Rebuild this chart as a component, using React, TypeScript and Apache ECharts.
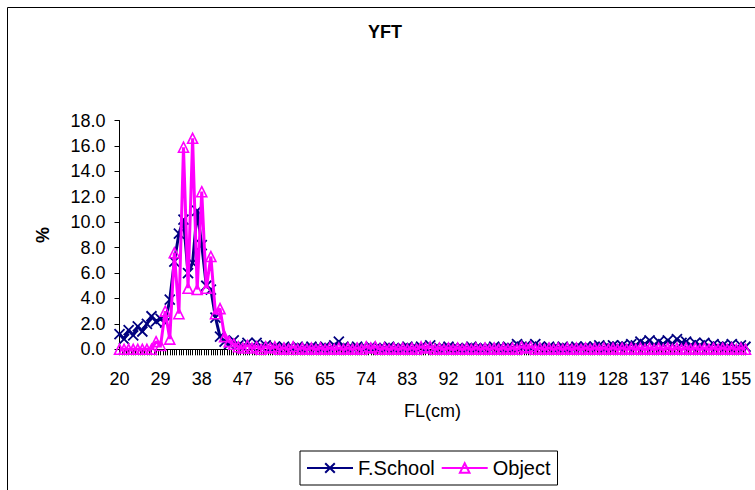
import React, { useEffect, useRef } from "react";
import * as echarts from "echarts";

const FONT = "'Liberation Sans', Arial, sans-serif";

// FL (cm) categories
const categories: number[] = [
  20, 21, 22, 23, 24, 25, 26, 27, 28, 29,
  30, 31, 32, 33, 34, 35, 36, 37, 38, 39,
  40, 41, 42, 43, 44, 45, 46, 47, 48, 49,
  50, 51, 52, 53, 54, 55, 56, 57, 58, 59,
  60, 61, 62, 63, 64, 65, 66, 67, 68, 69,
  70, 71, 72, 73, 74, 75, 76, 77, 78, 79,
  80, 81, 82, 83, 84, 85, 86, 87, 88, 89,
  90, 91, 92, 93, 94, 95, 96, 97, 98, 99,
  100, 101, 102, 103, 104, 105, 106, 107, 108, 109,
  110, 111, 112, 113, 114, 115, 116, 117, 118, 119,
  120, 121, 122, 123, 124, 125, 126, 127, 128, 129,
  130, 131, 132, 133, 134, 135, 136, 137, 138, 139,
  140, 141, 142, 143, 144, 145, 146, 147, 148, 149,
  150, 151, 152, 153, 154, 155, 156, 157,
];

// F.School (%)
const fSchool: number[] = [
  1.2, 0.8, 1.5, 1.1, 1.8, 1.4, 2.0, 2.6, 2.2, 2.4,
  2.1, 3.9, 6.9, 9.1, 10.2, 6.0, 6.8, 10.9, 8.2, 5.0,
  4.7, 2.5, 1.0, 0.6, 0.4, 0.7, 0.3, 0.2, 0.5, 0.2,
  0.5, 0.2, 0.3, 0.1, 0.2, 0.1, 0.2, 0.1, 0.1, 0.2,
  0.1, 0.1, 0.2, 0.1, 0.1, 0.2, 0.1, 0.3, 0.6, 0.2,
  0.1, 0.1, 0.2, 0.1, 0.1, 0.2, 0.1, 0.1, 0.1, 0.2,
  0.1, 0.1, 0.1, 0.2, 0.1, 0.1, 0.2, 0.1, 0.3, 0.1,
  0.1, 0.1, 0.2, 0.1, 0.1, 0.1, 0.1, 0.2, 0.1, 0.1,
  0.1, 0.1, 0.2, 0.1, 0.1, 0.2, 0.1, 0.4, 0.2, 0.3,
  0.1, 0.4, 0.2, 0.1, 0.2, 0.1, 0.1, 0.2, 0.1, 0.1,
  0.2, 0.1, 0.2, 0.1, 0.2, 0.3, 0.1, 0.2, 0.3, 0.2,
  0.3, 0.2, 0.4, 0.3, 0.6, 0.4, 0.7, 0.3, 0.6, 0.4,
  0.7, 0.4, 0.8, 0.5, 0.6, 0.3, 0.5, 0.3, 0.5, 0.2,
  0.4, 0.2, 0.3, 0.2, 0.4, 0.1, 0.3, 0.2,
];

// Object (%)
const objectPct: number[] = [
  0.0, 0.0, 0.0, 0.0, 0.0, 0.0, 0.0, 0.0, 0.6, 0.3,
  3.0, 0.8, 7.6, 2.8, 15.9, 4.8, 16.6, 4.7, 12.4, 4.8,
  7.3, 2.8, 3.2, 1.0, 0.6, 0.4, 0.2, 0.1, 0.3, 0.1,
  0.2, 0.0, 0.2, 0.1, 0.2, 0.0, 0.1, 0.0, 0.2, 0.0,
  0.1, 0.0, 0.1, 0.0, 0.1, 0.0, 0.1, 0.0, 0.1, 0.0,
  0.1, 0.0, 0.1, 0.0, 0.2, 0.1, 0.2, 0.0, 0.1, 0.0,
  0.1, 0.0, 0.1, 0.0, 0.1, 0.0, 0.2, 0.1, 0.2, 0.0,
  0.1, 0.0, 0.1, 0.0, 0.1, 0.0, 0.1, 0.0, 0.1, 0.0,
  0.1, 0.0, 0.1, 0.0, 0.1, 0.0, 0.1, 0.0, 0.2, 0.1,
  0.2, 0.0, 0.1, 0.0, 0.1, 0.0, 0.1, 0.0, 0.1, 0.0,
  0.1, 0.0, 0.1, 0.0, 0.1, 0.0, 0.1, 0.0, 0.1, 0.0,
  0.1, 0.0, 0.1, 0.0, 0.1, 0.0, 0.1, 0.0, 0.1, 0.0,
  0.1, 0.0, 0.1, 0.0, 0.1, 0.0, 0.1, 0.0, 0.1, 0.0,
  0.1, 0.0, 0.1, 0.0, 0.1, 0.0, 0.1, 0.0,
];

const seriesNames = ["F.School", "Object"];
const chartTitle = "YFT";
const labelStep = 9; // x labels every 9 cm
const yTicks = { min: 0, max: 18, step: 2 };

const NAVY = "#000080";
const MAGENTA = "#FF00FF";

export default function App() {
  const ref = useRef<HTMLDivElement>(null);

  useEffect(() => {
    if (!ref.current) return;
    const chart = echarts.init(ref.current, undefined, { renderer: "svg" });
    const x0 = categories[0];
    const lastOffset = categories[categories.length - 1] - x0;

    const option: any = {
      animation: false,
      backgroundColor: "#ffffff",
      textStyle: { fontFamily: FONT, color: "#000" },
      graphic: [
        {
          type: "rect",
          silent: true,
          z: -10,
          shape: { x: 7.5, y: 7.5, width: 800, height: 600 },
          style: { fill: "none", stroke: "#000", lineWidth: 1 },
        },
        {
          type: "text",
          silent: true,
          x: 385,
          y: 32,
          style: {
            text: chartTitle,
            align: "center",
            verticalAlign: "middle",
            fontFamily: FONT,
            fontSize: 18,
            fontWeight: "bold",
            fill: "#000",
          },
        },
      ],
      legend: {
        data: seriesNames,
        left: 300,
        top: 451,
        orient: "horizontal",
        padding: [7, 7, 7, 6],
        itemWidth: 46,
        itemHeight: 12,
        itemGap: 6,
        borderColor: "#000",
        borderWidth: 1,
        textStyle: { fontFamily: FONT, fontSize: 20, color: "#000" },
      },
      grid: { left: 119.5, top: 120.5, width: 626, height: 228.8 },
      xAxis: {
        type: "value",
        min: 0,
        max: lastOffset,
        interval: 0.5,
        axisLine: { show: true, onZero: false, lineStyle: { color: "#000", width: 1 } },
        axisTick: { show: true, length: 6, lineStyle: { color: "#000", width: 1 } },
        splitLine: { show: false },
        axisLabel: {
          fontFamily: FONT,
          fontSize: 18,
          color: "#000",
          margin: 21,
          formatter: (v: number) => {
            const k = v / labelStep;
            return Math.abs(k - Math.round(k)) < 1e-6 ? String(Math.round(v + x0)) : "";
          },
        },
        name: "FL(cm)",
        nameLocation: "middle",
        nameGap: 53,
        nameTextStyle: { fontFamily: FONT, fontSize: 18, color: "#000" },
      },
      yAxis: {
        type: "value",
        min: yTicks.min,
        max: yTicks.max,
        interval: yTicks.step,
        axisLine: { show: true, lineStyle: { color: "#000", width: 1 } },
        axisTick: { show: true, length: 5, lineStyle: { color: "#000", width: 1 } },
        splitLine: { show: false },
        axisLabel: {
          fontFamily: FONT,
          fontSize: 18,
          color: "#000",
          margin: 14,
          formatter: (v: number) => v.toFixed(1),
        },
        name: "%",
        nameLocation: "middle",
        nameGap: 68,
        nameTextStyle: { fontFamily: FONT, fontSize: 18, fontWeight: "bold", color: "#000" },
      },
      series: [
        {
          name: seriesNames[0],
          type: "line",
          data: categories.map((c, i) => [c - x0, fSchool[i]]),
          symbol: "path://M0,0L10,10M10,0L0,10",
          symbolSize: 10,
          showAllSymbol: true,
          lineStyle: { color: NAVY, width: 3 },
          itemStyle: { color: NAVY, borderColor: NAVY, borderWidth: 1.8 },
          z: 2,
        },
        {
          name: seriesNames[1],
          type: "line",
          data: categories.map((c, i) => [c - x0, objectPct[i]]),
          symbol: "triangle",
          symbolSize: 10,
          showAllSymbol: true,
          lineStyle: { color: MAGENTA, width: 3 },
          itemStyle: { color: "rgba(255,255,255,0)", borderColor: MAGENTA, borderWidth: 1.6 },
          z: 3,
        },
      ],
    };
    chart.setOption(option);
    return () => chart.dispose();
  }, []);

  return (
    <div
      ref={ref}
      style={{ position: "fixed", left: 0, top: 0, width: 755, height: 490, background: "#fff" }}
    />
  );
}
